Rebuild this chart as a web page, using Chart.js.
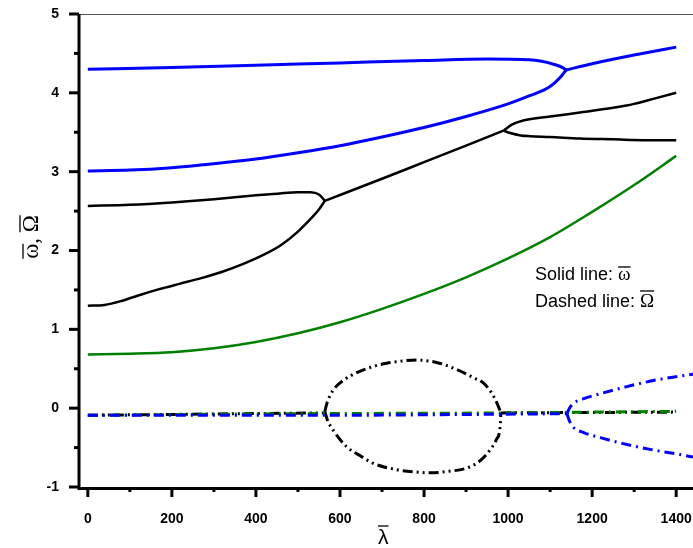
<!DOCTYPE html>
<html>
<head>
    <title>Frequency curves</title>
    <script src="https://cdn.jsdelivr.net/npm/chart.js"></script>
    <style>
        html, body { margin: 0; padding: 0; background: #fff; }
        #wrap { width: 693px; height: 548px; position: relative; }
    </style>
</head>
<body>
<div id="wrap"><canvas id="chart"></canvas></div>
<script>
    // x ticks / y ticks
    var xTicks = [0, 200, 400, 600, 800, 1000, 1200, 1400];
    var yTicks = [-1, 0, 1, 2, 3, 4, 5];

    // solid lines (omega)
    var blueUpX = [0, 200, 400, 600, 800, 950, 1050, 1080, 1110, 1130, 1138];
    var blueUpY = [4.30, 4.32, 4.35, 4.38, 4.41, 4.43, 4.42, 4.40, 4.36, 4.32, 4.29];
    var blueLowX = [0, 100, 200, 300, 400, 500, 600, 700, 800, 900, 1000, 1050, 1100, 1125, 1138];
    var blueLowY = [3.01, 3.02, 3.05, 3.10, 3.16, 3.24, 3.33, 3.44, 3.56, 3.70, 3.86, 3.96, 4.08, 4.20, 4.29];
    var blueTailX = [1138, 1200, 1300, 1400];
    var blueTailY = [4.29, 4.37, 4.48, 4.58];

    var blackUpX = [0, 100, 200, 300, 400, 450, 500, 530, 550, 564];
    var blackUpY = [2.565, 2.58, 2.61, 2.65, 2.70, 2.72, 2.74, 2.74, 2.71, 2.63];
    var blackLowX = [0, 40, 80, 120, 170, 220, 270, 320, 370, 420, 460, 500, 530, 550, 564];
    var blackLowY = [1.30, 1.31, 1.36, 1.43, 1.51, 1.58, 1.65, 1.73, 1.83, 1.95, 2.07, 2.24, 2.40, 2.52, 2.63];
    var blackMidX = [564, 700, 800, 900, 989];
    var blackMidY = [2.63, 2.91, 3.12, 3.33, 3.52];
    var blackHiX = [989, 1010, 1036, 1100, 1171, 1250, 1300, 1350, 1400];
    var blackHiY = [3.52, 3.60, 3.65, 3.70, 3.75, 3.81, 3.86, 3.93, 4.00];
    var blackLoX = [989, 1005, 1030, 1052, 1100, 1171, 1250, 1330, 1400];
    var blackLoY = [3.52, 3.49, 3.46, 3.45, 3.44, 3.42, 3.41, 3.40, 3.40];

    var greenX = [0, 100, 200, 300, 400, 500, 600, 700, 800, 900, 1000, 1100, 1200, 1300, 1400];
    var greenY = [0.68, 0.69, 0.71, 0.76, 0.84, 0.95, 1.09, 1.26, 1.45, 1.66, 1.90, 2.17, 2.49, 2.83, 3.20];

    // dashed lines (Omega)
    var blueDashX = [0, 300, 600, 900, 1140];
    var blueDashY = [-0.09, -0.09, -0.09, -0.08, -0.07];
    var blueDashUpX = [1140, 1146, 1155, 1180, 1224, 1280, 1345, 1400, 1440];
    var blueDashUpY = [-0.07, 0.00, 0.06, 0.12, 0.19, 0.27, 0.35, 0.40, 0.43];
    var blueDashLowX = [1140, 1146, 1155, 1180, 1224, 1274, 1345, 1400, 1440];
    var blueDashLowY = [-0.07, -0.16, -0.24, -0.31, -0.38, -0.45, -0.53, -0.58, -0.62];

    var greenDashX = [0, 500, 1000, 1200, 1400];
    var greenDashY = [-0.09, -0.07, -0.06, -0.05, -0.04];

    var blackDashAX = [0, 564];
    var blackDashAY = [-0.09, -0.06];
    var blackDashBX = [983, 1400];
    var blackDashBY = [-0.06, -0.05];
    var loopUpX = [564, 570, 584, 610, 640, 680, 711, 750, 783, 830, 878, 920, 941, 960, 973, 983];
    var loopUpY = [-0.04, 0.08, 0.23, 0.36, 0.45, 0.53, 0.57, 0.60, 0.61, 0.58, 0.49, 0.38, 0.32, 0.20, 0.07, -0.06];
    var loopLowX = [564, 570, 584, 616, 650, 679, 735, 780, 814, 860, 902, 935, 957, 972, 981, 983];
    var loopLowY = [-0.04, -0.15, -0.28, -0.49, -0.61, -0.70, -0.78, -0.81, -0.82, -0.80, -0.76, -0.66, -0.53, -0.40, -0.24, -0.06];

    function pts(xs, ys) {
        return xs.map(function (x, i) { return { x: x, y: ys[i] }; });
    }

    var BLUE = "#0000ff", BLACK = "#000000", GREEN = "#008000";
    var dashDot = [10, 5, 2, 5];
    var dashDotDot = [10, 4, 2, 4, 2, 4];

    function line(xs, ys, color, width, dash, order) {
        return {
            data: pts(xs, ys),
            borderColor: color,
            borderWidth: width,
            borderDash: dash || [],
            pointRadius: 0,
            fill: false,
            cubicInterpolationMode: "monotone",
            order: order
        };
    }

    var datasets = [
        line(blueUpX, blueUpY, BLUE, 3, null, 0),
        line(blueLowX, blueLowY, BLUE, 3, null, 0),
        line(blueTailX, blueTailY, BLUE, 3, null, 0),
        line(greenX, greenY, GREEN, 2.5, null, 1),
        line(blackUpX, blackUpY, BLACK, 2.5, null, 2),
        line(blackLowX, blackLowY, BLACK, 2.5, null, 2),
        line(blackMidX, blackMidY, BLACK, 2.5, null, 2),
        line(blackHiX, blackHiY, BLACK, 2.5, null, 2),
        line(blackLoX, blackLoY, BLACK, 2.5, null, 2),
        line(blueDashX, blueDashY, BLUE, 3, dashDot, 0),
        line(blueDashUpX, blueDashUpY, BLUE, 3, dashDot, 0),
        line(blueDashLowX, blueDashLowY, BLUE, 3, dashDot, 0),
        line(greenDashX, greenDashY, GREEN, 3, dashDot, 1),
        line(blackDashAX, blackDashAY, BLACK, 3, dashDotDot, 2),
        line(blackDashBX, blackDashBY, BLACK, 3, dashDotDot, 2),
        line(loopUpX, loopUpY, BLACK, 3, dashDotDot, 2),
        line(loopLowX, loopLowY, BLACK, 3, dashDotDot, 2)
    ];

    // text with a bar over it
    function barText(ctx, txt, x, y, font) {
        ctx.font = font;
        var m = ctx.measureText(txt);
        var w = m.width;
        ctx.fillText(txt, x, y);
        var top = y - m.actualBoundingBoxAscent - 3;
        ctx.beginPath();
        ctx.lineWidth = 1.3;
        ctx.moveTo(x, top);
        ctx.lineTo(x + w, top);
        ctx.stroke();
        return w;
    }

    var axesPlugin = {
        id: "axesPlugin",
        afterDraw: function (chart) {
            var ctx = chart.ctx;
            var a = chart.chartArea;
            var xs = chart.scales.x, ys = chart.scales.y;
            ctx.save();
            ctx.fillStyle = "#000";

            // top frame
            ctx.lineWidth = 1;
            ctx.strokeStyle = "#555";
            ctx.beginPath();
            ctx.moveTo(a.left, a.top + 0.5);
            ctx.lineTo(a.right, a.top + 0.5);
            ctx.stroke();

            ctx.strokeStyle = "#000";
            ctx.lineWidth = 3;
            ctx.beginPath();
            ctx.moveTo(a.left, a.top);
            ctx.lineTo(a.left, a.bottom + 1.5);
            ctx.lineTo(a.right, a.bottom + 1.5);
            ctx.stroke();

            // y ticks, major and minor
            for (var v = -1; v <= 5; v += 0.5) {
                var py = ys.getPixelForValue(v);
                var len = (v % 1 === 0) ? 10 : 5;
                ctx.beginPath();
                ctx.moveTo(a.left, py);
                ctx.lineTo(a.left - len, py);
                ctx.stroke();
            }
            // x ticks
            for (var t = 0; t <= 1400; t += 100) {
                var px = xs.getPixelForValue(t);
                var l2 = (t % 200 === 0) ? 10 : 5;
                ctx.beginPath();
                ctx.moveTo(px, a.bottom);
                ctx.lineTo(px, a.bottom + l2);
                ctx.stroke();
            }

            // axis titles
            ctx.textAlign = "left";
            ctx.textBaseline = "alphabetic";
            var lx = (a.left + a.right) / 2 - 8;
            barText(ctx, "\u03bb", lx, 544, "21px 'Liberation Sans'");

            ctx.save();
            ctx.translate(38, 237);
            ctx.rotate(-Math.PI / 2);
            ctx.font = "23px 'Liberation Serif'";
            var w1 = ctx.measureText("\u03c9").width;
            var w2 = ctx.measureText(", ").width;
            var w3 = ctx.measureText("\u03a9").width;
            var sx = -(w1 + w2 + w3) / 2;
            barText(ctx, "\u03c9", sx, 0, "23px 'Liberation Serif'");
            ctx.font = "23px 'Liberation Serif'";
            ctx.fillText(", ", sx + w1, 0);
            barText(ctx, "\u03a9", sx + w1 + w2, 0, "23px 'Liberation Serif'");
            ctx.restore();

            // legend note
            ctx.font = "18px 'Liberation Sans'";
            var s1 = "Solid line: ";
            var s2 = "Dashed line: ";
            ctx.fillText(s1, 535, 280);
            var o1 = ctx.measureText(s1).width;
            ctx.fillText(s2, 535, 307);
            var o2 = ctx.measureText(s2).width;
            barText(ctx, "\u03c9", 535 + o1, 280, "19px 'Liberation Serif'");
            barText(ctx, "\u03a9", 535 + o2, 307, "19px 'Liberation Serif'");
            ctx.restore();
        }
    };

    function noPad(s) {
        s.paddingLeft = 0; s.paddingRight = 0; s.paddingTop = 0; s.paddingBottom = 0;
    }

    new Chart(document.getElementById("chart"), {
        type: "line",
        data: { datasets: datasets },
        options: {
            responsive: true,
            maintainAspectRatio: false,
            animation: false,
            layout: { padding: { top: 14, right: 0, left: 0, bottom: 0 } },
            plugins: { legend: { display: false }, tooltip: { enabled: false } },
            scales: {
                x: {
                    type: "linear",
                    min: -21,
                    max: 1440,
                    afterFit: function (s) { s.height = 61; noPad(s); },
                    afterBuildTicks: function (s) { s.ticks = xTicks.map(function (v) { return { value: v }; }); },
                    grid: { display: false, drawTicks: false },
                    border: { display: false },
                    ticks: {
                        color: "#000",
                        font: { family: "'Liberation Sans'", size: 14, weight: "bold" },
                        padding: 24,
                        callback: function (v) { return String(v); }
                    }
                },
                y: {
                    type: "linear",
                    min: -1,
                    max: 5,
                    afterFit: function (s) { s.width = 79; noPad(s); },
                    afterBuildTicks: function (s) { s.ticks = yTicks.map(function (v) { return { value: v }; }); },
                    grid: { display: false, drawTicks: false },
                    border: { display: false },
                    ticks: {
                        color: "#000",
                        font: { family: "'Liberation Sans'", size: 14, weight: "bold" },
                        padding: 20,
                        callback: function (v) { return String(v); }
                    }
                }
            }
        },
        plugins: [axesPlugin]
    });
</script>
</body>
</html>
